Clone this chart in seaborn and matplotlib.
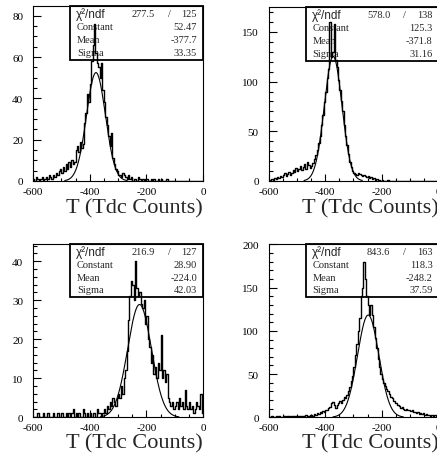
import numpy as np
import pandas as pd
import matplotlib
matplotlib.use("Agg")
import matplotlib.pyplot as plt
import seaborn as sns
from matplotlib.patches import Rectangle
from matplotlib.ticker import MultipleLocator

# ---------------- data ----------------
bin_edges = [float(v) for v in np.arange(-600, 0.1, 5)]
x_ticks = [-600, -400, -200, 0]
x_label = "T (Tdc Counts)"

counts_a = [1, 0, 2, 1, 0, 1, 2, 0,
            1, 2, 1, 3, 2, 1, 3, 2,
            4, 3, 5, 6, 4, 7, 5, 8,
            6, 9, 7, 10, 8, 9,
            15, 17, 14, 19, 16, 18,
            28, 33, 42, 38,
            47, 58, 66,
            76, 62, 57,
            55, 50, 57,
            44, 38, 31,
            27, 22, 17,
            23, 11, 8,
            6, 5, 3,
            3, 2, 4,
            3, 2, 1, 3,
            1, 2, 0, 1, 1, 0, 2, 1, 0, 1, 0, 1,
            1, 0, 0, 1, 0, 1, 0, 0, 1, 0, 1, 0,
            0, 0, 1, 0, 0, 0, 0, 0, 0, 0, 0, 0, 0, 0,
            0, 0, 0, 0, 0, 0, 0, 0, 0, 0, 0, 0, 0, 0]

counts_b = [0, 1, 2, 1, 3, 2, 4, 3,
            5, 4, 6, 8, 5, 7, 9, 6,
            8, 11, 9, 13, 10, 12, 15, 11,
            14, 17, 12, 19,
            16, 13, 15, 18,
            22, 26, 31, 38,
            45, 56, 66, 79,
            90, 104, 113, 160,
            125, 130, 158, 122,
            115, 102, 92, 80,
            70, 56, 45, 36,
            27, 19, 14, 10,
            8, 7, 6, 8,
            7, 6, 5, 6,
            5, 4, 5, 3,
            4, 2, 3, 1,
            2, 1, 1, 0,
            1, 0, 0, 0, 1, 0, 0, 0, 0, 0,
            0, 0, 0, 0, 0, 0, 0, 0, 0, 0,
            0, 0, 0, 0, 0, 0, 0, 0, 0, 0,
            0, 0, 0, 0, 0, 0, 0, 0, 0, 0]

counts_c = [0, 0, 0, 1, 0, 0, 0, 1, 0, 0, 1, 0, 0, 0, 1, 0, 0, 1, 0, 0,
            1, 0, 0, 1, 0, 1, 0, 1, 2, 0, 1, 0, 1, 0, 0, 2, 1, 0, 1, 0,
            1, 0, 1, 1, 0, 2, 1, 1, 0, 1,
            2, 1, 3, 2, 4, 3, 5, 4, 3, 5,
            6, 5, 8, 6, 10, 12,
            17, 25, 31, 35,
            34, 30, 40, 33,
            31, 32, 29, 28,
            30, 24, 26, 20,
            18, 14, 16, 11,
            13, 10, 14, 12,
            21, 10, 12, 9,
            11, 5, 4, 3,
            4, 2, 3, 4, 2, 5,
            3, 4, 2, 7, 3, 2,
            4, 2, 3, 1, 2, 4,
            3, 2, 6, 1]

counts_d = [0, 0, 1, 0, 0, 1, 0, 1, 0, 0, 1, 1, 0, 2, 1, 0, 1, 2, 1, 1,
            1, 1, 2, 1, 2, 2, 3, 1, 2, 3, 3, 2, 4, 3, 5, 4, 6, 5, 7, 6,
            9, 8, 11, 12,
            16, 18, 14, 11,
            14, 17, 19, 16,
            20, 23, 22, 26,
            30, 35, 42, 48,
            58, 72, 85, 100,
            115, 140, 150, 180,
            160, 140, 130, 118,
            130, 118, 104, 92,
            80, 68, 58, 50,
            44, 40, 36, 33,
            30, 27, 24, 22,
            19, 17, 16, 14,
            13, 11, 12, 10,
            9, 10, 8, 8,
            7, 8, 6, 6,
            5, 6, 4, 5,
            4, 5, 3, 4,
            3, 3, 2, 3,
            2, 3, 2, 1]

# fit parameters: constant, mean, sigma
fit_a = [52.47, -377.7, 33.35]
fit_b = [125.3, -371.8, 31.16]
fit_c = [28.90, -224.0, 42.03]
fit_d = [118.3, -248.2, 37.59]

stat_labels = ["Constant", "Mean", "Sigma"]
stats_a = ["277.5", "125", "52.47", "-377.7", "33.35"]
stats_b = ["578.0", "138", "125.3", "-371.8", "31.16"]
stats_c = ["216.9", "127", "28.90", "-224.0", "42.03"]
stats_d = ["843.6", "163", "118.3", "-248.2", "37.59"]

y_max = [84.7, 175, 44.4, 200.5]
y_major = [20, 50, 10, 50]
y_minor = [5, 10, 2, 10]

# ---------------- style ----------------
sns.set_style("ticks")
plt.rcParams["font.family"] = ["Liberation Serif", "DejaVu Serif"]
plt.rcParams["axes.unicode_minus"] = False
plt.rcParams["axes.linewidth"] = 0.8

W, H = 437, 460
fig = plt.figure(figsize=(W / 100, H / 100), dpi=100)

# axes rectangles in pixels: left, top, width, height
rects = [(33, 7, 170, 175), (268.5, 8, 170, 174),
         (33, 245, 170, 173.3), (268.5, 245, 170, 173.3)]
box_h = [54, 54, 53, 53]
row_off = [[8, 21, 34, 47], [8, 21, 34, 47],
           [7.5, 20.5, 33.5, 46], [7.5, 20.5, 33.5, 46]]
xlab_off = [26.5, 26.5, 25.5, 25.5]

panels = [(counts_a, fit_a, stats_a), (counts_b, fit_b, stats_b),
          (counts_c, fit_c, stats_c), (counts_d, fit_d, stats_d)]

edges_arr = np.array(bin_edges)
centers = (edges_arr[:-1] + edges_arr[1:]) / 2

for i, ((counts, fit, stats), (l, t, w, h)) in enumerate(zip(panels, rects)):
    ax = fig.add_axes([l / W, 1 - (t + h) / H, w / W, h / H])
    df = pd.DataFrame({"T": centers, "n": np.asarray(counts, dtype=float)})
    sns.histplot(data=df, x="T", weights="n", bins=bin_edges, element="step",
                 fill=False, color="black", linewidth=1.0, ax=ax, zorder=3)
    C, mu, sig = fit
    xs = np.linspace(mu - 3.3 * sig, mu + 3.3 * sig, 300)
    ys = C * np.exp(-0.5 * ((xs - mu) / sig) ** 2)
    sns.lineplot(x=xs, y=ys, color="black", linewidth=0.8, ax=ax, zorder=3)

    ax.set_xlim(-600, 0)
    ax.set_ylim(0, y_max[i])
    ax.set_xticks(x_ticks)
    ax.xaxis.set_minor_locator(MultipleLocator(50))
    ax.yaxis.set_major_locator(MultipleLocator(y_major[i]))
    ax.yaxis.set_minor_locator(MultipleLocator(y_minor[i]))
    ax.tick_params(which="both", direction="in", top=False, right=False,
                   labelsize=8, colors="black")
    ax.tick_params(axis="y", which="major", length=6, width=0.8, pad=7)
    ax.tick_params(axis="y", which="minor", length=3, width=0.8)
    ax.tick_params(axis="x", which="major", length=5, width=0.8, pad=4)
    ax.tick_params(axis="x", which="minor", length=2.5, width=0.8)
    for s in ax.spines.values():
        s.set_visible(True)
        s.set_color("black")
        s.set_linewidth(0.8)
    ax.set_ylabel("")
    ax.set_xlabel(x_label, fontsize=16, loc="right")
    ax.xaxis.set_label_coords(1.0, -xlab_off[i] / h)
    ax.xaxis.label.set_va("center")

    # stats box
    bh = box_h[i]
    bx0 = 37 / w
    ax.add_patch(Rectangle((bx0, 1 - bh / h), 1 - bx0, bh / h,
                           transform=ax.transAxes, facecolor="white",
                           edgecolor="black", linewidth=1.3, zorder=1.5,
                           clip_on=False))
    ry = [1 - r / h for r in row_off[i]]
    lx = 43 / w
    vx = 164 / w
    ax.text(lx, ry[0], "χ²/ndf", transform=ax.transAxes, fontsize=8.5,
            family=["Liberation Sans", "DejaVu Sans"], va="center", ha="left", zorder=2)
    ax.text(122 / w, ry[0], stats[0], transform=ax.transAxes, fontsize=7.5,
            va="center", ha="right", zorder=2)
    ax.text(136 / w, ry[0], "/", transform=ax.transAxes, fontsize=7.5,
            va="center", ha="center", zorder=2)
    ax.text(vx, ry[0], stats[1], transform=ax.transAxes, fontsize=7.5,
            va="center", ha="right", zorder=2)
    for k, lab in enumerate(stat_labels):
        ax.text(lx + 1 / w, ry[k + 1], lab, transform=ax.transAxes, fontsize=7.5,
                va="center", ha="left", zorder=2)
        ax.text(vx, ry[k + 1], stats[k + 2], transform=ax.transAxes,
                fontsize=7.5, va="center", ha="right", zorder=2)

fig.savefig("out.png", dpi=100)
